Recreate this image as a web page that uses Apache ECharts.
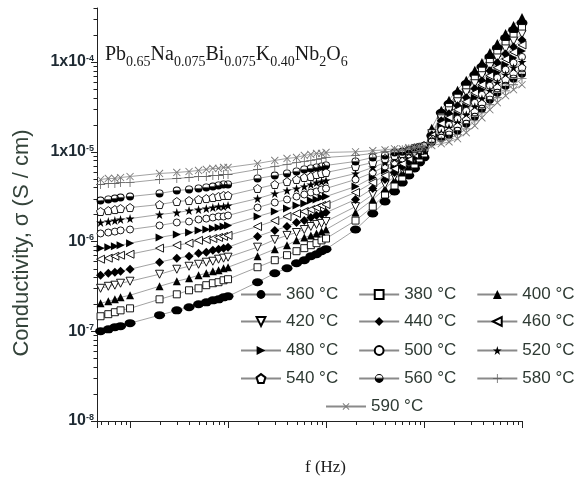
<!DOCTYPE html>
<html>
<head>
<meta charset="utf-8">
<script src="https://cdn.jsdelivr.net/npm/echarts@6/dist/echarts.min.js"></script>
<style>
  html, body { margin: 0; padding: 0; background: #fff; }
  #chart { width: 576px; height: 488px; }
</style>
</head>
<body>
<div id="chart"></div>
<script>
// Measurement frequencies (Hz)
const frequencies = [50, 60, 70, 80, 100, 200, 300, 400, 500, 600, 700, 800, 900, 1000,
  2000, 3000, 4000, 5000, 6000, 7000, 8000, 9000, 10000,
  20000, 30000, 40000, 50000, 60000, 70000, 80000, 90000, 100000,
  120000, 150000, 180000, 220000, 270000, 330000, 390000, 470000, 560000, 680000, 820000, 1000000];

// Temperatures (°C)
const temperatures = [360, 380, 400, 420, 440, 460, 480, 500, 520, 540, 560, 580, 590];

// Conductivity (S/cm) per temperature, one value per frequency
const sigma360 = [1.00e-7,1.05e-7,1.11e-7,1.14e-7,1.23e-7,1.51e-7,1.71e-7,1.85e-7,2.00e-7,2.10e-7,2.21e-7,2.27e-7,2.39e-7,2.45e-7,
  3.52e-7,4.43e-7,5.04e-7,5.73e-7,6.19e-7,6.86e-7,7.22e-7,7.80e-7,8.21e-7,
  1.36e-6,2.05e-6,2.79e-6,3.61e-6,4.54e-6,5.44e-6,6.52e-6,7.60e-6,8.65e-6,
  1.51e-5,2.72e-5,3.43e-5,4.43e-5,5.73e-5,7.22e-5,8.87e-5,1.14e-4,1.43e-4,1.85e-4,2.27e-4,2.72e-4];
const sigma380 = [1.47e-7,1.55e-7,1.63e-7,1.71e-7,1.80e-7,2.27e-7,2.58e-7,2.86e-7,3.01e-7,3.26e-7,3.43e-7,3.52e-7,3.70e-7,3.80e-7,
  5.17e-7,6.19e-7,7.04e-7,7.80e-7,8.43e-7,9.10e-7,9.58e-7,1.03e-6,1.08e-6,
  1.71e-6,2.45e-6,3.34e-6,4.21e-6,5.17e-6,6.19e-6,7.22e-6,8.43e-6,9.58e-6,
  1.55e-5,2.52e-5,3.17e-5,4.00e-5,5.04e-5,6.52e-5,8.00e-5,1.00e-4,1.26e-4,1.59e-4,1.95e-4,2.39e-4];
const sigma400 = [2.05e-7,2.16e-7,2.27e-7,2.39e-7,2.52e-7,3.17e-7,3.61e-7,3.90e-7,4.21e-7,4.43e-7,4.66e-7,4.78e-7,5.04e-7,5.17e-7,
  6.86e-7,8.21e-7,9.10e-7,1.03e-6,1.11e-6,1.17e-6,1.23e-6,1.29e-6,1.36e-6,
  2.10e-6,2.94e-6,3.90e-6,4.91e-6,5.88e-6,6.86e-6,8.00e-6,9.10e-6,1.03e-5,
  1.85e-5,2.94e-5,3.80e-5,4.91e-5,6.35e-5,8.21e-5,1.00e-4,1.29e-4,1.63e-4,2.10e-4,2.58e-4,3.17e-4];
const sigma420 = [3.01e-7,3.17e-7,3.26e-7,3.43e-7,3.61e-7,4.32e-7,4.91e-7,5.30e-7,5.58e-7,5.88e-7,6.03e-7,6.35e-7,6.52e-7,6.69e-7,
  8.65e-7,1.05e-6,1.17e-6,1.26e-6,1.36e-6,1.47e-6,1.55e-6,1.59e-6,1.67e-6,
  2.45e-6,3.34e-6,4.32e-6,5.30e-6,6.35e-6,7.41e-6,8.43e-6,9.58e-6,1.05e-5,
  1.59e-5,2.33e-5,2.86e-5,3.61e-5,4.54e-5,5.73e-5,7.04e-5,8.87e-5,1.11e-4,1.40e-4,1.71e-4,2.05e-4];
const sigma440 = [4.21e-7,4.43e-7,4.54e-7,4.66e-7,4.91e-7,5.88e-7,6.52e-7,6.86e-7,7.41e-7,7.60e-7,8.00e-7,8.21e-7,8.43e-7,8.65e-7,
  1.14e-6,1.33e-6,1.47e-6,1.63e-6,1.71e-6,1.85e-6,1.95e-6,2.00e-6,2.10e-6,
  2.94e-6,3.90e-6,4.91e-6,5.88e-6,6.86e-6,7.80e-6,8.87e-6,9.83e-6,1.08e-5,
  1.55e-5,2.21e-5,2.65e-5,3.26e-5,4.00e-5,5.04e-5,6.19e-5,8.00e-5,9.83e-5,1.23e-4,1.47e-4,1.76e-4];
const sigma460 = [6.35e-7,6.52e-7,6.86e-7,7.04e-7,7.22e-7,8.43e-7,9.10e-7,9.58e-7,1.03e-6,1.05e-6,1.08e-6,1.11e-6,1.14e-6,1.17e-6,
  1.47e-6,1.71e-6,1.90e-6,2.05e-6,2.16e-6,2.27e-6,2.39e-6,2.52e-6,2.58e-6,
  3.52e-6,4.54e-6,5.44e-6,6.52e-6,7.41e-6,8.43e-6,9.34e-6,1.03e-5,1.11e-5,
  1.51e-5,2.05e-5,2.39e-5,2.94e-5,3.61e-5,4.54e-5,5.58e-5,7.04e-5,8.65e-5,1.08e-4,1.29e-4,1.55e-4];
const sigma480 = [8.43e-7,8.65e-7,8.87e-7,9.10e-7,9.58e-7,1.11e-6,1.20e-6,1.26e-6,1.33e-6,1.36e-6,1.40e-6,1.43e-6,1.47e-6,1.51e-6,
  1.90e-6,2.16e-6,2.33e-6,2.52e-6,2.65e-6,2.86e-6,2.94e-6,3.09e-6,3.17e-6,
  4.10e-6,5.17e-6,6.19e-6,7.04e-6,8.00e-6,8.87e-6,9.83e-6,1.05e-5,1.14e-5,
  1.47e-5,1.90e-5,2.21e-5,2.58e-5,3.17e-5,4.00e-5,4.91e-5,6.19e-5,7.60e-5,9.34e-5,1.11e-4,1.33e-4];
const sigma500 = [1.23e-6,1.26e-6,1.29e-6,1.33e-6,1.36e-6,1.51e-6,1.63e-6,1.67e-6,1.76e-6,1.80e-6,1.85e-6,1.90e-6,1.90e-6,1.95e-6,
  2.39e-6,2.72e-6,2.94e-6,3.17e-6,3.34e-6,3.52e-6,3.61e-6,3.80e-6,3.90e-6,
  4.91e-6,5.88e-6,6.86e-6,7.60e-6,8.43e-6,9.34e-6,1.00e-5,1.05e-5,1.14e-5,
  1.40e-5,1.76e-5,2.00e-5,2.33e-5,2.86e-5,3.52e-5,4.32e-5,5.44e-5,6.69e-5,8.21e-5,9.83e-5,1.14e-4];
const sigma520 = [1.63e-6,1.67e-6,1.71e-6,1.76e-6,1.80e-6,2.00e-6,2.10e-6,2.21e-6,2.27e-6,2.33e-6,2.39e-6,2.45e-6,2.45e-6,2.52e-6,
  3.01e-6,3.43e-6,3.70e-6,3.90e-6,4.10e-6,4.32e-6,4.54e-6,4.66e-6,4.78e-6,
  5.73e-6,6.69e-6,7.60e-6,8.43e-6,9.10e-6,9.83e-6,1.05e-5,1.11e-5,1.17e-5,
  1.36e-5,1.63e-5,1.85e-5,2.10e-5,2.58e-5,3.17e-5,3.90e-5,4.78e-5,5.88e-5,7.22e-5,8.65e-5,1.00e-4];
const sigma540 = [2.16e-6,2.21e-6,2.27e-6,2.33e-6,2.39e-6,2.58e-6,2.79e-6,2.86e-6,2.94e-6,3.01e-6,3.09e-6,3.17e-6,3.26e-6,3.26e-6,
  3.90e-6,4.32e-6,4.66e-6,4.91e-6,5.17e-6,5.30e-6,5.58e-6,5.73e-6,5.88e-6,
  6.86e-6,7.60e-6,8.43e-6,9.10e-6,9.58e-6,1.03e-5,1.08e-5,1.11e-5,1.17e-5,
  1.33e-5,1.51e-5,1.67e-5,1.90e-5,2.27e-5,2.79e-5,3.43e-5,4.21e-5,5.17e-5,6.35e-5,7.41e-5,8.65e-5];
const sigma560 = [2.86e-6,2.94e-6,3.01e-6,3.09e-6,3.17e-6,3.43e-6,3.70e-6,3.80e-6,3.90e-6,4.00e-6,4.10e-6,4.21e-6,4.32e-6,4.32e-6,
  5.04e-6,5.44e-6,5.73e-6,6.03e-6,6.35e-6,6.52e-6,6.69e-6,6.86e-6,7.04e-6,
  7.80e-6,8.65e-6,9.10e-6,9.83e-6,1.00e-5,1.05e-5,1.11e-5,1.14e-5,1.17e-5,
  1.29e-5,1.43e-5,1.55e-5,1.71e-5,2.05e-5,2.45e-5,3.01e-5,3.80e-5,4.54e-5,5.44e-5,6.52e-5,7.41e-5];
const sigma580 = [4.32e-6,4.43e-6,4.43e-6,4.54e-6,4.54e-6,4.91e-6,5.04e-6,5.17e-6,5.30e-6,5.30e-6,5.44e-6,5.44e-6,5.58e-6,5.58e-6,
  6.35e-6,6.86e-6,7.22e-6,7.60e-6,7.80e-6,8.00e-6,8.21e-6,8.43e-6,8.65e-6,
  9.10e-6,9.58e-6,1.00e-5,1.03e-5,1.05e-5,1.08e-5,1.11e-5,1.11e-5,1.14e-5,
  1.23e-5,1.33e-5,1.40e-5,1.55e-5,1.80e-5,2.21e-5,2.72e-5,3.34e-5,4.00e-5,4.78e-5,5.58e-5,6.52e-5];
const sigma590 = [4.91e-6,5.04e-6,5.04e-6,5.17e-6,5.30e-6,5.73e-6,5.88e-6,6.03e-6,6.19e-6,6.35e-6,6.52e-6,6.52e-6,6.69e-6,6.69e-6,
  7.41e-6,8.00e-6,8.43e-6,8.65e-6,9.10e-6,9.34e-6,9.58e-6,9.58e-6,9.83e-6,
  1.00e-5,1.03e-5,1.05e-5,1.08e-5,1.08e-5,1.11e-5,1.11e-5,1.14e-5,1.14e-5,
  1.17e-5,1.23e-5,1.29e-5,1.40e-5,1.63e-5,1.95e-5,2.39e-5,2.94e-5,3.52e-5,4.21e-5,4.91e-5,5.58e-5];

const sigmaByTemp = [sigma360, sigma380, sigma400, sigma420, sigma440, sigma460, sigma480,
  sigma500, sigma520, sigma540, sigma560, sigma580, sigma590];

// Axis ranges
const freqMin = 46, freqMax = 1e6;
const sigmaMin = 1e-8, sigmaMax = 4e-4;

// Marker shapes
const STAR = 'path://M0,-1L0.2245,-0.309L0.951,-0.309L0.363,0.118L0.588,0.809L0,0.382L-0.588,0.809L-0.363,0.118L-0.951,-0.309L-0.2245,-0.309Z';
const PENTAGON = 'path://M0,-1L0.951,-0.309L0.588,0.809L-0.588,0.809L-0.951,-0.309Z';
const HALF_DISC = 'path://M1,0A1,1 0 1,1 -1,0A1,1 0 1,1 1,0Z M0.78,0A0.78,0.78 0 1,0 -0.78,0A0.78,0.78 0 1,0 0.78,0Z M0.78,0A0.78,0.78 0 0,1 -0.78,0Z';
const PLUS = 'path://M-1,-0.09H1V0.09H-1Z M-0.09,-1H0.09V1H-0.09Z';

const markerStyles = [
  { symbol: 'circle', size: [11, 8], fill: '#000' },
  { symbol: 'rect', size: 7, fill: '#fff', stroke: '#000' },
  { symbol: 'triangle', size: 8, fill: '#000' },
  { symbol: 'triangle', size: 8, fill: '#fff', stroke: '#000', rotate: 180 },
  { symbol: 'diamond', size: 9, fill: '#000' },
  { symbol: 'triangle', size: 8, fill: '#fff', stroke: '#000', rotate: 90 },
  { symbol: 'triangle', size: 8, fill: '#000', rotate: -90 },
  { symbol: 'circle', size: 7, fill: '#fff', stroke: '#000' },
  { symbol: STAR, size: 9, fill: '#000' },
  { symbol: PENTAGON, size: 8, fill: '#fff', stroke: '#000' },
  { symbol: HALF_DISC, size: 8, fill: '#000' },
  { symbol: PLUS, size: 9, fill: '#666' },
  { symbol: PLUS, size: 10, fill: '#777', rotate: 45 }
];

const names = temperatures.map(t => t + ' °C');

const lineSeries = temperatures.map((t, k) => {
  const m = markerStyles[k];
  return {
    name: names[k],
    type: 'line',
    data: frequencies.map((f, i) => [f, sigmaByTemp[k][i]]),
    symbol: m.symbol,
    symbolSize: m.size,
    symbolRotate: m.rotate || 0,
    showAllSymbol: true,
    clip: false,
    lineStyle: { color: '#8a8a8a', width: 0.8 },
    itemStyle: {
      color: m.fill,
      borderColor: m.stroke || m.fill,
      borderWidth: m.stroke ? 0.9 : 0
    },
    emphasis: { disabled: true },
    animation: false,
    z: 2
  };
});

// Minor tick positions (2..9 in each decade)
const xMinorTicks = [];
for (let d = 10; d <= 1e5; d *= 10) {
  for (let k = 2; k <= 9; k++) {
    const v = k * d;
    if (v > freqMin && v < freqMax) xMinorTicks.push([v, sigmaMin]);
  }
}
const yMinorTicks = [];
for (let d = 1e-8; d <= 1e-4 * 1.001; d *= 10) {
  for (let k = 2; k <= 9; k++) {
    const v = k * d;
    if (v <= sigmaMax * 1.0001) yMinorTicks.push([freqMin, v]);
  }
}

const tickSeries = [
  {
    type: 'custom', silent: true, clip: false, animation: false, z: 5,
    data: xMinorTicks,
    renderItem: (params, api) => {
      const p = api.coord([api.value(0), api.value(1)]);
      const x = Math.round(p[0]) + 0.5;
      return { type: 'line', shape: { x1: x, y1: p[1], x2: x, y2: p[1] + 4 }, style: { stroke: '#222', lineWidth: 1 } };
    }
  },
  {
    type: 'custom', silent: true, clip: false, animation: false, z: 5,
    data: yMinorTicks,
    renderItem: (params, api) => {
      const p = api.coord([api.value(0), api.value(1)]);
      const y = Math.round(p[1]) + 0.5;
      return { type: 'line', shape: { x1: p[0] - 3.5, y1: y, x2: p[0], y2: y }, style: { stroke: '#222', lineWidth: 1 } };
    }
  }
];

const legendText = { fontFamily: 'Liberation Sans, Arial, sans-serif', fontSize: 17, color: '#2e3a33' };
const legendRows = [
  { names: names.slice(0, 3), left: 240, top: 286 },
  { names: names.slice(3, 6), left: 240, top: 313 },
  { names: names.slice(6, 9), left: 240, top: 342 },
  { names: names.slice(9, 12), left: 240, top: 370 },
  { names: names.slice(12, 13), left: 325, top: 398 }
];

const chart = echarts.init(document.getElementById('chart'), null, { renderer: 'canvas' });

chart.setOption({
  backgroundColor: '#fff',
  animation: false,
  grid: { left: 97, right: 54, top: 8, bottom: 67, containLabel: false },
  xAxis: {
    type: 'log',
    min: freqMin,
    max: freqMax,
    name: 'f (Hz)',
    nameLocation: 'middle',
    nameGap: 38,
    nameTextStyle: { fontFamily: 'Liberation Serif, Times New Roman, serif', fontSize: 17, color: '#1a1a1a', padding: [0, 0, 0, 32] },
    axisLine: { show: true, lineStyle: { color: '#222', width: 1 } },
    axisTick: { show: true, inside: false, length: 7, lineStyle: { color: '#222', width: 1 } },
    axisLabel: { show: false },
    splitLine: { show: false },
    minorTick: { show: false }
  },
  yAxis: {
    type: 'log',
    min: sigmaMin,
    max: sigmaMax,
    axisLine: { show: true, lineStyle: { color: '#222', width: 1 } },
    axisTick: { show: true, inside: false, length: 6, lineStyle: { color: '#222', width: 1 } },
    splitLine: { show: false },
    axisLabel: {
      margin: 3,
      showMaxLabel: false,
      formatter: v => {
        const l = Math.log10(v);
        const e = Math.round(l);
        if (Math.abs(l - e) > 0.01) return '';
        return (e >= -5 ? '{b|1x10}' : '{b|10}') + '{s|' + e + '}';
      },
      rich: {
        b: { fontFamily: 'Liberation Sans, Arial, sans-serif', fontSize: 16, fontWeight: 'bold', color: '#1e2a33' },
        s: { fontFamily: 'Liberation Sans, Arial, sans-serif', fontSize: 9, fontWeight: 'bold', color: '#1e2a33', verticalAlign: 'top' }
      }
    }
  },
  legend: legendRows.map(r => ({
    data: r.names,
    left: r.left,
    top: r.top,
    width: 380,
    orient: 'horizontal',
    padding: 0,
    itemGap: 20,
    itemWidth: 40,
    itemHeight: 11,
    selectedMode: false,
    textStyle: legendText
  })),
  graphic: [
    {
      type: 'text',
      x: 22,
      y: 243,
      rotation: Math.PI / 2,
      style: {
        text: 'Conductivity, σ (S / cm)',
        align: 'center',
        verticalAlign: 'middle',
        fontFamily: 'Liberation Sans, Arial, sans-serif',
        fontSize: 22,
        fill: '#34433a'
      }
    },
    {
      type: 'text',
      left: 105,
      top: 45,
      style: {
        text: '{m|Pb}{s|0.65}{m|Na}{s|0.075}{m|Bi}{s|0.075}{m|K}{s|0.40}{m|Nb}{s|2}{m|O}{s|6}',
        rich: {
          m: { fontFamily: 'Liberation Serif, Times New Roman, serif', fontSize: 20, fill: '#1a1a1a' },
          s: { fontFamily: 'Liberation Serif, Times New Roman, serif', fontSize: 14, fill: '#1a1a1a', padding: [14, 0, 0, 0] }
        }
      }
    }
  ],
  series: lineSeries.concat(tickSeries)
});
</script>
</body>
</html>
